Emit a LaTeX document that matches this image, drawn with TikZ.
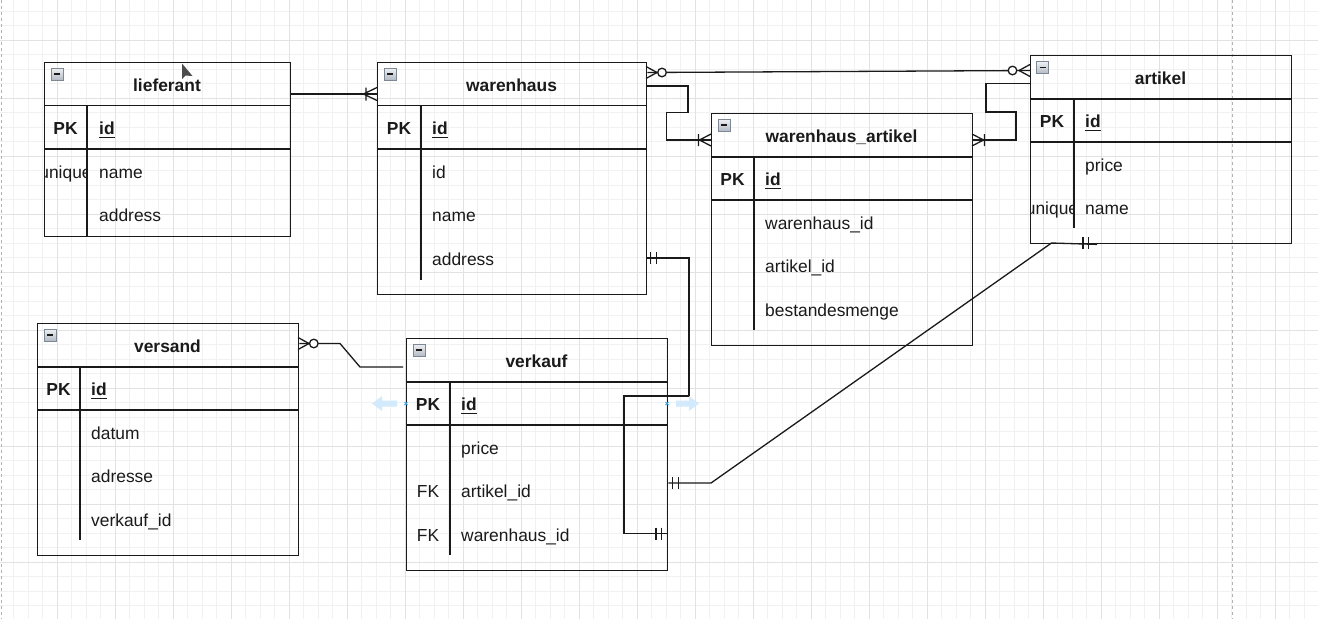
\documentclass[tikz,border=0pt]{standalone}
\usepackage{fontspec}
\setmainfont{Liberation Sans}
\usetikzlibrary{calc}
\definecolor{gminor}{HTML}{F1F1F1}
\definecolor{gmajor}{HTML}{E2E2E2}
\definecolor{ink}{HTML}{1A1A1A}
\definecolor{hoverblue}{HTML}{D2EAFB}
\definecolor{pointblue}{HTML}{29A9E8}
\definecolor{iconedge}{HTML}{7E8794}
\definecolor{icontop}{HTML}{EEF0F3}
\definecolor{iconbot}{HTML}{B4BBC4}
\tikzset{
  tbl/.style={draw=ink, line width=1.4pt, inner sep=0pt, anchor=north west},
  sepline/.style={draw=ink, line width=1.4pt},
  conn/.style={draw=ink, line width=1.3pt},
  txtbase/.style={inner sep=0pt, text=ink, yshift=-1pt},
  ttl/.style={txtbase, font=\fontsize{17.4}{20}\selectfont\bfseries, anchor=base},
  fld/.style={txtbase, font=\fontsize{17.4}{20}\selectfont, anchor=base west},
  keyc/.style={txtbase, font=\fontsize{17.4}{20}\selectfont\bfseries, anchor=base},
  fkc/.style={txtbase, font=\fontsize{17.4}{20}\selectfont, anchor=base},
  keyf/.style={txtbase, font=\fontsize{17.4}{20}\selectfont\bfseries, anchor=base west},
  ring/.style={draw=ink, line width=1.3pt, fill=white},
}
\newcommand{\ermin}[2]{%
  \shade[top color=icontop, bottom color=iconbot] (#1,#2) rectangle ++(12,12);
  \draw[iconedge, line width=0.9pt] (#1,#2) rectangle ++(12,12);
  \draw[ink, line width=1.4pt] ({#1+3},{#2+6}) -- ++(6,0);
}
\newcommand{\erul}[1]{%
  \draw[ink, line width=1.2pt] ($(#1.base west)+(0,2.8)$) -- ($(#1.base east)+(0,2.8)$);
}
\begin{document}
\begin{tikzpicture}[x=1pt,y=-1pt]
\useasboundingbox (0,0) rectangle (1318,619);
\fill[white] (0,0) rectangle (1318,619);
% grid
\foreach \i in {0,...,91} { \draw[gminor, line width=0.8pt] ({-1+14.5*\i},0) -- ({-1+14.5*\i},619); }
\foreach \j in {0,...,43} { \draw[gminor, line width=0.8pt] (0,{-3.5+14.5*\j}) -- (1318,{-3.5+14.5*\j}); }
\foreach \i in {0,...,23} { \draw[gmajor, line width=0.9pt] ({-1+58*\i},0) -- ({-1+58*\i},619); }
\foreach \j in {0,...,11} { \draw[gmajor, line width=0.9pt] (0,{-18+58*\j}) -- (1318,{-18+58*\j}); }
% page borders
\draw[gray!60, line width=0.8pt, dash pattern=on 3pt off 3pt] (1.5,0) -- (1.5,619);
\draw[gray!60, line width=0.8pt, dash pattern=on 3pt off 3pt] (1232,0) -- (1232,619);

% ---------- lieferant ----------
\node[tbl, minimum width=246pt, minimum height=174pt] (lieferant) at (44,62) {};
\draw[sepline] (44,105.5) -- (290,105.5);
\draw[sepline] (44,149) -- (290,149);
\draw[sepline] (87,105.5) -- (87,236);
\ermin{51}{68}
\node[ttl] (lt) at (167,90.3) {lieferant};
\node[keyc] (lpk) at (65.5,133.8) {PK};
\node[keyf] (lid) at (99,133.8) {id}; \erul{lid}
\begin{scope}
  \clip (44,149) rectangle (87,192.5);
  \node[fkc] (luq) at (65.5,177.3) {unique};
\end{scope}
\node[fld] (lname) at (99,177.3) {name};
\node[fld] (laddr) at (99,220.8) {address};

% ---------- warenhaus ----------
\node[tbl, minimum width=269pt, minimum height=232pt] (warenhaus) at (377,62) {};
\draw[sepline] (377,105.5) -- (646,105.5);
\draw[sepline] (377,149) -- (646,149);
\draw[sepline] (421,105.5) -- (421,280);
\ermin{384}{68}
\node[ttl] (wt) at (511.5,90.3) {warenhaus};
\node[keyc] (wpk) at (399,133.8) {PK};
\node[keyf] (wid) at (432,133.8) {id}; \erul{wid}
\node[fld] (wid2) at (432,177.3) {id};
\node[fld] (wname) at (432,220.8) {name};
\node[fld] (waddr) at (432,264.3) {address};

% ---------- warenhaus_artikel ----------
\node[tbl, minimum width=261pt, minimum height=232pt] (warenhaus_artikel) at (711,113) {};
\draw[sepline] (711,157) -- (972,157);
\draw[sepline] (711,200) -- (972,200);
\draw[sepline] (754,157) -- (754,330);
\ermin{718}{119}
\node[ttl] (wat) at (841.5,141.3) {warenhaus\_artikel};
\node[keyc] (wapk) at (732.5,184.8) {PK};
\node[keyf] (waid) at (765,184.8) {id}; \erul{waid}
\node[fld] (wawid) at (765,228.3) {warenhaus\_id};
\node[fld] (waaid) at (765,271.8) {artikel\_id};
\node[fld] (wabm) at (765,315.3) {bestandesmenge};

% ---------- artikel ----------
\node[tbl, minimum width=261pt, minimum height=188pt] (artikel) at (1030,55) {};
\draw[sepline] (1030,99) -- (1291,99);
\draw[sepline] (1030,142) -- (1291,142);
\draw[sepline] (1074,99) -- (1074,228);
\ermin{1036.5}{61.5}
\node[ttl] (at) at (1160.5,83.3) {artikel};
\node[keyc] (apk) at (1052,126.8) {PK};
\node[keyf] (aid) at (1085,126.8) {id}; \erul{aid}
\node[fld] (aprice) at (1085,170.3) {price};
\begin{scope}
  \clip (1030,186) rectangle (1074,229);
  \node[fkc] (auq) at (1052,213.8) {unique};
\end{scope}
\node[fld] (aname) at (1085,213.8) {name};

% ---------- versand ----------
\node[tbl, minimum width=261pt, minimum height=232pt] (versand) at (37,323) {};
\draw[sepline] (37,367) -- (298,367);
\draw[sepline] (37,410) -- (298,410);
\draw[sepline] (80,367) -- (80,540);
\ermin{44}{329}
\node[ttl] (vt) at (167.5,351.3) {versand};
\node[keyc] (vpk) at (58.5,394.8) {PK};
\node[keyf] (vid) at (91,394.8) {id}; \erul{vid}
\node[fld] (vdat) at (91,438.3) {datum};
\node[fld] (vadr) at (91,481.8) {adresse};
\node[fld] (vvid) at (91,525.3) {verkauf\_id};

% ---------- verkauf ----------
\node[tbl, minimum width=261pt, minimum height=232pt] (verkauf) at (406,338) {};
\draw[sepline] (406,382) -- (667,382);
\draw[sepline] (406,425) -- (667,425);
\draw[sepline] (450,382) -- (450,555);
\ermin{413}{344}
\node[ttl] (kt) at (536.5,366.3) {verkauf};
\node[keyc] (kpk) at (428,409.8) {PK};
\node[keyf] (kid) at (461,409.8) {id}; \erul{kid}
\node[fld] (kprice) at (461,453.3) {price};
\node[fkc] (kfk1) at (428,496.8) {FK};
\node[fld] (kaid) at (461,496.8) {artikel\_id};
\node[fkc] (kfk2) at (428,540.3) {FK};
\node[fld] (kwid) at (461,540.3) {warenhaus\_id};

% ---------- connectors ----------
% lieferant -> warenhaus (one to many)
\draw[conn] (lieferant.east |- 0,94) -- (warenhaus.west |- 0,94);
\draw[conn] (363.5,94) -- (377,87.5) (363.5,94) -- (377,100.5) (366,87.5) -- (366,100.5);

% warenhaus -> artikel (zero to many, both ends)
\draw[conn] (warenhaus.east |- 0,72.5) -- (artikel.west |- 0,70.5);
\draw[conn] (646,66.5) -- (657,72.5) -- (646,78.5);
\draw[ring] (662,72.5) circle (4.3);
\draw[conn] (1030,64.5) -- (1019,70.5) -- (1030,76.5);
\draw[ring] (1012.5,70.5) circle (4.3);

% warenhaus -> warenhaus_artikel
\draw[conn] (warenhaus.east |- 0,86) -| (688,112.5) -| (666.5,140) -- (warenhaus_artikel.west |- 0,140);
\draw[conn] (699.5,140) -- (711,134) (699.5,140) -- (711,146) (698.5,134) -- (698.5,146);

% artikel -> warenhaus_artikel
\draw[conn] (artikel.west |- 0,83.5) -| (986,112) -| (1016,140) -- (warenhaus_artikel.east |- 0,140);
\draw[conn] (983.5,140) -- (972,134) (983.5,140) -- (972,146) (984.5,134) -- (984.5,146);

% warenhaus -> verkauf (warenhaus_id)
\draw[conn] (warenhaus.east |- 0,258) -| (689,396) -| (624,533.5) -- (verkauf.east |- 0,533.5);
\draw[conn] (650.5,252) -- (650.5,264) (656.5,252) -- (656.5,264);
\draw[conn] (656,527.5) -- (656,539.5) (661.5,527.5) -- (661.5,539.5);

% artikel -> verkauf (artikel_id)
\coordinate (aend) at ($(artikel.south west)+(67,0)$);
\draw[conn] (aend) -- (1051.5,243) -- (711,483) -- (verkauf.east |- 0,483);
\draw[conn] (1083,237) -- (1083,249) (1088.5,237) -- (1088.5,249);
\draw[conn] (672.5,477) -- (672.5,489) (678.5,477) -- (678.5,489);

% versand -> verkauf (zero to many)
\coordinate (vkend) at ($(verkauf.west |- 0,367)+(-3,0)$);
\draw[conn] (versand.east |- 0,343.5) -- (340,343.5) -- (360,367) -- (vkend);
\draw[conn] (298,337.5) -- (309,343.5) -- (298,349.5);
\draw[ring] (313.8,343.5) circle (4.3);

% ---------- hover artefacts ----------
\fill[hoverblue] (372,403.5) -- (382,396) -- (382,400.5) -- (397,400.5) -- (397,406.5) -- (382,406.5) -- (382,411) -- cycle;
\fill[hoverblue] (699,403.5) -- (689,396) -- (689,400.5) -- (676,400.5) -- (676,406.5) -- (689,406.5) -- (689,411) -- cycle;
\draw[pointblue, line width=0.8pt] (404.5,402) -- (407.5,405) (404.5,405) -- (407.5,402);
\draw[pointblue, line width=0.8pt] (665.5,402) -- (668.5,405) (665.5,405) -- (668.5,402);

% mouse cursor
\fill[black!70] (182,63.5) -- (182,79) -- (185.5,75.5) -- (192.5,76) -- cycle;
\end{tikzpicture}
\end{document}
